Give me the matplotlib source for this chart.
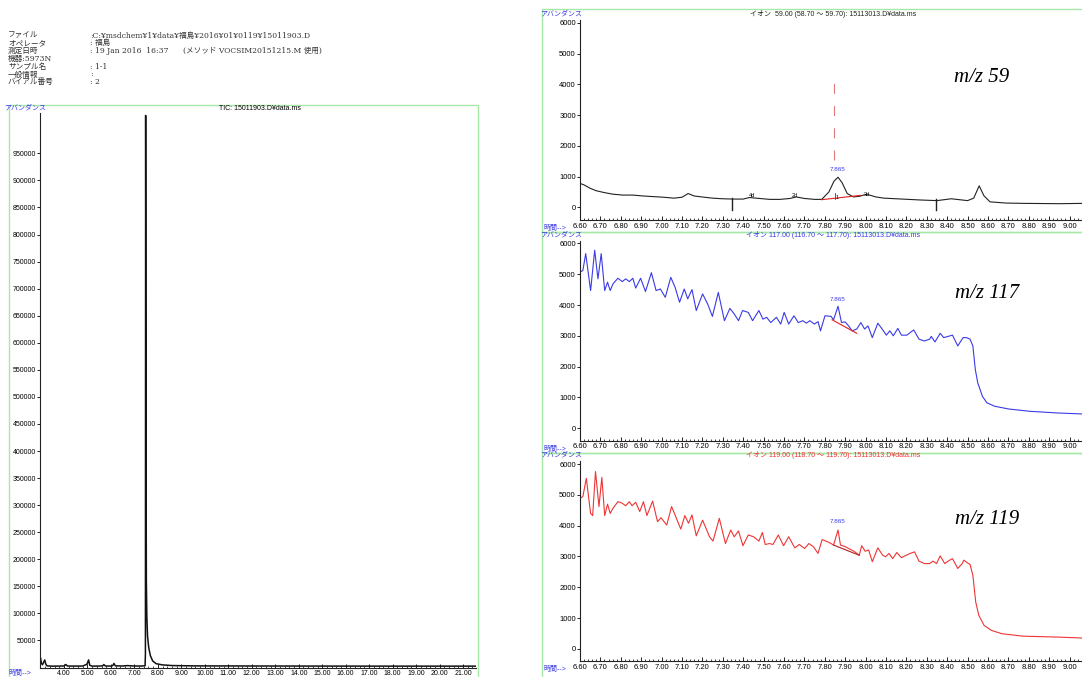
import matplotlib.pyplot as plt
from matplotlib.patches import Rectangle
from matplotlib.ticker import MultipleLocator, FormatStrFormatter

plt.rcParams['font.family'] = ['Liberation Sans', 'Noto Sans CJK JP']

# header of the report
header_labels = ['ファイル', 'オペレータ', '測定日時', '機器:5973N', 'サンプル名', '一般情報', 'バイアル番号']
header_values = [':C:¥msdchem¥1¥data¥福島¥2016¥01¥0119¥15011903.D', ': 福島',
                 ': 19 Jan 2016  16:37', '', ': 1-1', ':', ': 2']
method_note = '(メソッド VOCSIM20151215.M 使用)'

# TIC chromatogram (min, abundance)
tic_t = [2.98, 3.00, 3.04, 3.085, 3.14, 3.18, 3.23, 3.28, 3.5, 3.8, 4.0, 4.08, 4.15, 4.4,
         4.8, 4.98, 5.05, 5.1, 5.2, 5.5, 5.65, 5.70, 5.76, 6.0, 6.08, 6.13, 6.19, 6.5, 6.7,
         7.0, 7.3, 7.455, 7.47, 7.48, 7.495, 7.51, 7.53, 7.56, 7.61, 7.68, 7.78, 7.93, 8.2,
         8.6, 9.5, 12.0, 15.0, 18.0, 21.6]
tic_y = [12000, 18000, 8000, 5000, 10000, 14000, 6000, 3000, 2500, 2600, 2800, 5500, 2800,
         2600, 2700, 6000, 14000, 4000, 2600, 2700, 3000, 5500, 2800, 2700, 3500, 7500, 3000,
         2800, 3500, 2800, 2700, 3200, 25000, 1020000, 450000, 160000, 95000, 58000, 37000,
         22000, 12000, 7000, 4800, 3600, 3000, 2800, 2600, 2500, 2500]

# ion 59
mz59_t = [6.60, 6.62, 6.65, 6.68, 6.72, 6.76, 6.81, 6.86, 6.91, 6.96, 7.01, 7.06, 7.10,
          7.13, 7.16, 7.21, 7.25, 7.30, 7.35, 7.40, 7.43, 7.48, 7.53, 7.58, 7.63, 7.66,
          7.70, 7.75, 7.785, 7.82, 7.845, 7.865, 7.885, 7.91, 7.94, 7.97, 8.00, 8.02,
          8.05, 8.09, 8.18, 8.27, 8.35, 8.42, 8.50, 8.53, 8.557, 8.58, 8.61, 8.69, 8.78,
          8.95, 9.06]
mz59_y = [780, 730, 620, 540, 480, 430, 400, 400, 370, 350, 330, 300, 330, 450, 370, 330,
          300, 280, 270, 270, 320, 290, 260, 260, 290, 340, 290, 260, 260, 500, 850, 980,
          800, 450, 340, 360, 420, 400, 340, 300, 270, 240, 220, 280, 220, 300, 700, 380,
          180, 140, 130, 120, 130]

# ion 117
mz117_t = [6.600, 6.614, 6.628, 6.652, 6.672, 6.688, 6.704, 6.721, 6.735, 6.748, 6.762,
           6.786, 6.807, 6.824, 6.842, 6.859, 6.873, 6.897, 6.921, 6.950, 6.973, 6.994,
           7.018, 7.045, 7.066, 7.088, 7.111, 7.128, 7.149, 7.170, 7.201, 7.226, 7.249,
           7.278, 7.308, 7.335, 7.356, 7.377, 7.397, 7.425, 7.446, 7.477, 7.497, 7.515,
           7.535, 7.563, 7.584, 7.601, 7.623, 7.649, 7.670, 7.692, 7.710, 7.727, 7.749,
           7.767, 7.779, 7.801, 7.831, 7.843, 7.865, 7.882, 7.900, 7.917, 7.934, 7.957,
           7.977, 7.995, 8.012, 8.033, 8.060, 8.081, 8.102, 8.119, 8.136, 8.158, 8.176,
           8.202, 8.236, 8.262, 8.288, 8.314, 8.322, 8.340, 8.366, 8.383, 8.426, 8.452,
           8.478, 8.495, 8.512, 8.526, 8.538, 8.550, 8.573, 8.595, 8.633, 8.702, 8.806,
           8.944, 9.061]
mz117_y = [5070, 5120, 5670, 4470, 5780, 4850, 5670, 4470, 4740, 4470, 4690, 4870, 4760,
           4850, 4760, 4870, 4550, 4870, 4440, 5050, 4470, 4520, 4250, 4900, 4580, 4090,
           4520, 4200, 4500, 3820, 4360, 4030, 3630, 4410, 3490, 3890, 3710, 3490, 3820,
           3760, 3490, 3820, 3540, 3600, 3430, 3600, 3380, 3760, 3380, 3650, 3430, 3490,
           3410, 3490, 3380, 3460, 3160, 3650, 3630, 3520, 3960, 3430, 3450, 3320, 3160,
           3220, 3430, 3220, 3320, 2940, 3410, 3220, 3020, 3160, 3000, 3240, 3020, 3020,
           3190, 2890, 2830, 2890, 2980, 2800, 3080, 2940, 3020, 2670, 2940, 2940, 2890,
           2670, 1900, 1470, 1030, 820, 710, 620, 545, 490, 460]

# ion 119
mz119_t = [6.600, 6.614, 6.631, 6.652, 6.662, 6.676, 6.693, 6.707, 6.721, 6.735, 6.748,
           6.762, 6.786, 6.807, 6.824, 6.842, 6.855, 6.873, 6.893, 6.911, 6.928, 6.956,
           6.980, 6.997, 7.025, 7.049, 7.066, 7.094, 7.114, 7.132, 7.149, 7.170, 7.201,
           7.235, 7.252, 7.283, 7.313, 7.339, 7.356, 7.377, 7.399, 7.425, 7.451, 7.477,
           7.494, 7.508, 7.529, 7.546, 7.572, 7.598, 7.623, 7.653, 7.675, 7.701, 7.722,
           7.744, 7.767, 7.787, 7.813, 7.831, 7.843, 7.865, 7.877, 7.900, 7.917, 7.943,
           7.969, 7.981, 7.998, 8.015, 8.033, 8.060, 8.084, 8.098, 8.115, 8.133, 8.153,
           8.176, 8.193, 8.219, 8.240, 8.262, 8.288, 8.314, 8.331, 8.348, 8.366, 8.388,
           8.412, 8.426, 8.452, 8.474, 8.481, 8.498, 8.512, 8.526, 8.540, 8.555, 8.581,
           8.616, 8.668, 8.771, 8.944, 9.061]
mz119_y = [4890, 4950, 5540, 4400, 4330, 5760, 4620, 5570, 4330, 4700, 4400, 4570, 4780,
           4730, 4650, 4780, 4650, 4760, 4460, 4780, 4330, 4800, 4130, 4260, 4020, 4620,
           4350, 3890, 4330, 4080, 4350, 3670, 4180, 3640, 3500, 4240, 3420, 3860, 3640,
           3830, 3350, 3700, 3640, 3500, 3780, 3390, 3420, 3390, 3700, 3350, 3640, 3280,
           3390, 3260, 3420, 3320, 3100, 3550, 3480, 3420, 3370, 3860, 3370, 3320, 3260,
           3170, 3040, 3350, 3170, 3210, 2830, 3280, 3040, 2990, 3100, 2930, 3130, 2960,
           3020, 3100, 3150, 2850, 2770, 2770, 2850, 2770, 3020, 2770, 2880, 2930, 2610,
           2770, 2880, 2800, 2740, 2390, 1520, 1090, 760, 600, 490, 410, 380, 350]

peak_rt = 7.865
base59 = ([7.785, 7.975], [250, 390])
base117 = ([7.836, 7.957], [3520, 3080])
base119 = ([7.843, 7.969], [3370, 3040])

W, H = 1082, 677
fig = plt.figure(figsize=(W / 100, H / 100), dpi=100)

BLUE = '#3a3ae6'
RED = '#ee3535'
GREEN = '#a6e8a6'


def add_ax(x0, y0, x1, y1):
    return fig.add_axes([x0 / W, 1 - y1 / H, (x1 - x0) / W, (y1 - y0) / H])


def ftext(x, y, s, **kw):
    fig.text(x / W, 1 - y / H, s, **kw)


def box(x0, y0, x1, y1):
    fig.add_artist(Rectangle((x0 / W, 1 - y1 / H), (x1 - x0) / W, (y1 - y0) / H,
                             transform=fig.transFigure, fill=False, ec=GREEN, lw=1.0))


def style(ax):
    for s in ['top', 'right']:
        ax.spines[s].set_visible(False)
    for s in ['left', 'bottom']:
        ax.spines[s].set_linewidth(0.8)
        ax.spines[s].set_color('#222222')
    ax.tick_params(axis='x', which='major', direction='in', length=3, width=0.6,
                   labelsize=5.5, pad=2)
    ax.tick_params(axis='x', which='minor', direction='in', length=1.8, width=0.5)
    ax.tick_params(axis='y', direction='out', length=2, width=0.6, labelsize=5.5, pad=1)


# header text (baseline aligned so mixed fonts line up)
hfont = ['DejaVu Serif', 'Noto Sans CJK JP']
for i, (lab, val) in enumerate(zip(header_labels, header_values)):
    y = 37.5 + 7.8 * i
    ftext(8, y, lab, fontsize=5.5, family=hfont, va='baseline', color='#333333')
    if val:
        ftext(90, y, val, fontsize=5.5, family=hfont, va='baseline', color='#333333')
ftext(183, 37.5 + 7.8 * 2, method_note, fontsize=5.5, family=hfont, va='baseline',
      color='#333333')

# green frames
box(9, 105, 478, 690)
box(542, 9, 1100, 232)
box(542, 232, 1100, 453)
box(542, 453, 1100, 690)

# TIC panel
ax = add_ax(40, 113, 476, 667.5)
style(ax)
ax.plot(tic_t, tic_y, color='#111111', lw=1.1)
ax.set_xlim(2.98, 21.55)
ax.set_ylim(0, 1024500)
ax.xaxis.set_minor_locator(MultipleLocator(0.2))
ax.xaxis.set_major_formatter(FormatStrFormatter('%.2f'))
ax.set_xticks([float(v) for v in range(4, 22)])
ax.set_yticks(list(range(50000, 1000000, 50000)))
ax.tick_params(axis='x', pad=1.5, labelsize=5)
ax.tick_params(axis='y', labelsize=5)
ftext(260, 109, 'TIC: 15011903.D¥data.ms', fontsize=5, ha='center', va='center')
ftext(25, 108, 'アバンダンス', fontsize=5, ha='center', va='center', color=BLUE)
ftext(8, 674, '時間-->', fontsize=5, ha='left', va='center', color=BLUE)

# ion panels
tops = [20, 240.7, 461.4]
bots = [220, 440.7, 661.4]
titles = ['イオン  59.00 (58.70 〜 59.70): 15113013.D¥data.ms',
          'イオン 117.00 (116.70 〜 117.70): 15113013.D¥data.ms',
          'イオン 119.00 (118.70 〜 119.70): 15113013.D¥data.ms']
title_colors = ['#222222', BLUE, RED]
series = [(mz59_t, mz59_y, '#222222', base59, 1150),
          (mz117_t, mz117_y, BLUE, base117, 4100),
          (mz119_t, mz119_y, RED, base119, 4050)]
mz_labels = ['m/z 59', 'm/z 117', 'm/z 119']
mz_pos = [(982, 77), (987, 293), (987, 519)]

for k in range(3):
    ax = add_ax(580, tops[k], 1082, bots[k])
    style(ax)
    t, y, col, base, lab_y = series[k]
    ax.plot(t, y, color=col, lw=0.8)
    ax.plot(base[0], base[1], color='#e02020' if k < 2 else '#b02020', lw=0.8)
    ax.text(peak_rt, lab_y, '7.865', fontsize=4.5, color=BLUE, ha='center', va='bottom')
    ax.set_xlim(6.60, 9.061)
    ax.set_ylim(-410, 6090)
    ax.xaxis.set_major_locator(MultipleLocator(0.1))
    ax.xaxis.set_minor_locator(MultipleLocator(0.02))
    ax.xaxis.set_major_formatter(FormatStrFormatter('%.2f'))
    ax.set_yticks(list(range(0, 7000, 1000)))
    ftext(833, tops[k] - 6, titles[k], fontsize=5, ha='center', va='center',
          color=title_colors[k])
    ftext(561, tops[k] - 6, 'アバンダンス', fontsize=5, ha='center', va='center', color=BLUE)
    ftext(543, bots[k] + 8.5, '時間-->', fontsize=5, ha='left', va='center', color=BLUE)
    ftext(mz_pos[k][0], mz_pos[k][1], mz_labels[k], fontsize=15, family='Liberation Serif',
          style='italic', ha='center', va='center')
    if k == 0:
        # integration markers on the m/z 59 trace
        ax.plot([7.845, 7.845], [1540, 4220], color='#e07a7a', lw=0.8, dashes=(9, 11))
        ax.plot([7.345, 7.345], [300, -100], color='#222222', lw=1.0)
        ax.plot([8.343, 8.343], [260, -100], color='#222222', lw=1.0)
        ax.plot([7.848, 7.848], [260, 470], color='#444444', lw=0.6)
        ax.text(7.862, 330, '1', fontsize=4, ha='center', va='center')
        ax.text(7.445, 380, '4d', fontsize=4, ha='center', va='center')
        ax.text(7.655, 380, '2d', fontsize=4, ha='center', va='center')
        ax.text(8.005, 420, '3d', fontsize=4, ha='center', va='center')

fig.savefig('out.png', dpi=100)
